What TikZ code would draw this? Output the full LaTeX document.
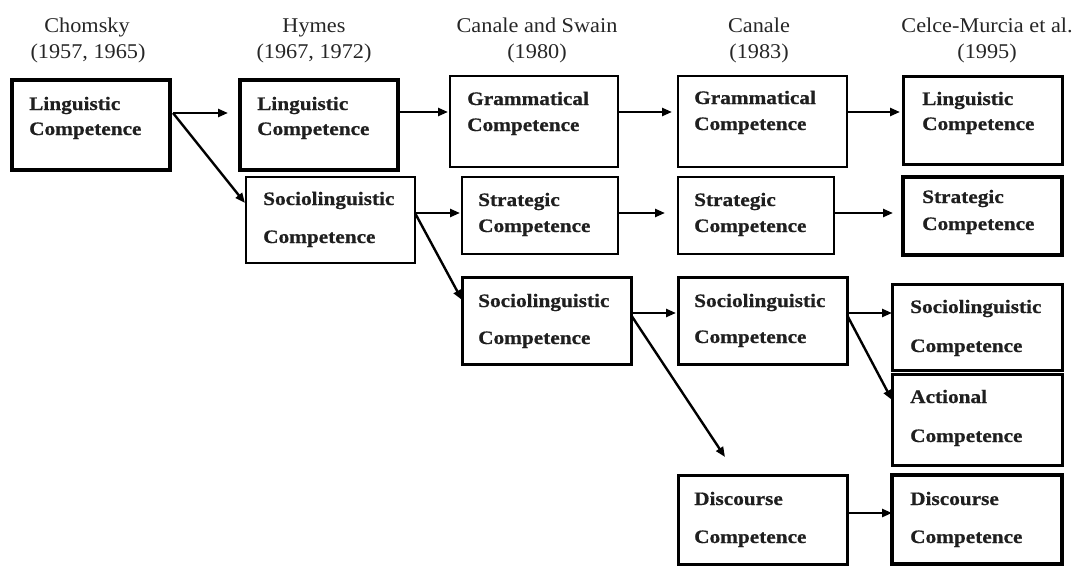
\documentclass[tikz,border=0pt]{standalone}
\usepackage{fontspec}
\setmainfont{Liberation Serif}
\newfontfamily\bxfont[FakeStretch=1.12,FakeBold=0.7]{Liberation Serif Bold}
\newfontfamily\hdfont[FakeStretch=1.06]{Liberation Serif}
\usetikzlibrary{arrows.meta,calc}
\newcommand\cbx[6]{\node[cbox,#6,minimum width={(#4-#2)*1pt},minimum height={(#5-#3)*1pt}] (#1) at (#2,#3) {};}
\newcommand\clab[6]{%
  \node[lbl] (#1-a) at ($(#1.north west)+(#2,#3)$) {#5};
  \node[lbl] (#1-b) at ($(#1.north west)+(#2,#4)$) {#6};}
\begin{document}
\begin{tikzpicture}[x=1pt,y=-1pt,
  cbox/.style={draw, inner sep=0pt, outer sep=0pt, anchor=north west},
  thinb/.style={line width=2.4pt},
  medb/.style={line width=3pt},
  thickb/.style={line width=3.6pt},
  lbl/.style={anchor=base west, inner sep=0pt, font=\bxfont\fontsize{19}{19}\selectfont, text=black!88},
  hd/.style={anchor=base, inner sep=0pt, font=\hdfont\fontsize{21}{21}\selectfont, text=black!85},
  arr/.style={line width=2.4pt, -{Triangle[length=10pt,width=8pt]}}]
\useasboundingbox (0,0) rectangle (1073,565);
% headings
\node[hd] (h1a) at (87,32) {Chomsky};
\node[hd] (h1b) at (88,58) {(1957, 1965)};
\node[hd] (h2a) at (314,32) {Hymes};
\node[hd] (h2b) at (314,58) {(1967, 1972)};
\node[hd] (h3a) at (537,32) {Canale and Swain};
\node[hd] (h3b) at (537,58) {(1980)};
\node[hd] (h4a) at (759,32) {Canale};
\node[hd] (h4b) at (759,58) {(1983)};
\node[hd] (h5a) at (987,32) {Celce-Murcia et al.};
\node[hd] (h5b) at (987,58) {(1995)};
% boxes
\cbx{chom}{12}{80}{170}{170}{thickb}
\cbx{hymL}{240}{80}{398}{170}{thickb}
\cbx{hymS}{246}{177}{415}{263}{thinb}
\cbx{csG}{450}{76}{618}{167}{thinb}
\cbx{csS}{462}{177}{618}{254}{thinb}
\cbx{csSo}{462}{277}{631}{364}{medb}
\cbx{caG}{678}{76}{847}{167}{thinb}
\cbx{caS}{678}{177}{834}{254}{thinb}
\cbx{caSo}{678}{277}{847}{364}{medb}
\cbx{caD}{678}{475}{847}{564}{medb}
\cbx{ceL}{903}{76}{1062}{164}{medb}
\cbx{ceS}{903}{177}{1062}{255}{thickb}
\cbx{ceSo}{892}{284}{1062}{370}{medb}
\cbx{ceA}{892}{374}{1062}{465}{medb}
\cbx{ceD}{892}{475}{1062}{564}{thickb}
% labels
\clab{chom}{17}{30}{55}{Linguistic}{Competence}
\clab{hymL}{17}{30}{55}{Linguistic}{Competence}
\clab{hymS}{17}{28}{66}{Sociolinguistic}{Competence}
\clab{csG}{17}{29}{55}{Grammatical}{Competence}
\clab{csS}{16}{29}{55}{Strategic}{Competence}
\clab{csSo}{16}{30}{67}{Sociolinguistic}{Competence}
\clab{caG}{16}{28}{54}{Grammatical}{Competence}
\clab{caS}{16}{29}{55}{Strategic}{Competence}
\clab{caSo}{16}{30}{66}{Sociolinguistic}{Competence}
\clab{caD}{16}{30}{68}{Discourse}{Competence}
\clab{ceL}{19}{29}{54}{Linguistic}{Competence}
\clab{ceS}{19}{26}{53}{Strategic}{Competence}
\clab{ceSo}{18}{29}{68}{Sociolinguistic}{Competence}
\clab{ceA}{18}{29}{68}{Actional}{Competence}
\clab{ceD}{18}{30}{68}{Discourse}{Competence}
% arrows
\draw[arr] ($(chom.north east)+(3,33)$) -- ($(hymL.north west)+(-12,33)$);
\draw[arr] ($(chom.north east)+(3,33)$) -- ($(hymS.north west)+(-1,26)$);
\draw[arr] ($(hymL.north east)+(2,32)$) -- ($(csG.north west)+(-2,36)$);
\draw[arr] ($(hymS.north east)+(0,36)$) -- ($(csS.north west)+(-2,36)$);
\draw[arr] ($(hymS.north east)+(0,36)$) -- ($(csSo.north west)+(0,23)$);
\draw[arr] ($(csG.north east)+(0,36)$) -- ($(caG.north west)+(-6,36)$);
\draw[arr] ($(csS.north east)+(0,36)$) -- ($(caS.north west)+(-13,36)$);
\draw[arr] ($(csSo.north east)+(0,36)$) -- ($(caSo.north west)+(-2,36)$);
\draw[arr] ($(csSo.north east)+(0,38)$) -- ($(caD.north west)+(47,-18)$);
\draw[arr] ($(caG.north east)+(0,36)$) -- ($(ceL.north west)+(-3,36)$);
\draw[arr] ($(caS.north east)+(0,36)$) -- ($(ceS.north west)+(-10,36)$);
\draw[arr] ($(caSo.north east)+(0,36)$) -- ($(ceSo.north west)+(0,29)$);
\draw[arr] ($(caSo.north east)+(0,38)$) -- ($(ceA.north west)+(0,26)$);
\draw[arr] ($(caD.north east)+(0,38)$) -- ($(ceD.north west)+(0,38)$);
\end{tikzpicture}
\end{document}
